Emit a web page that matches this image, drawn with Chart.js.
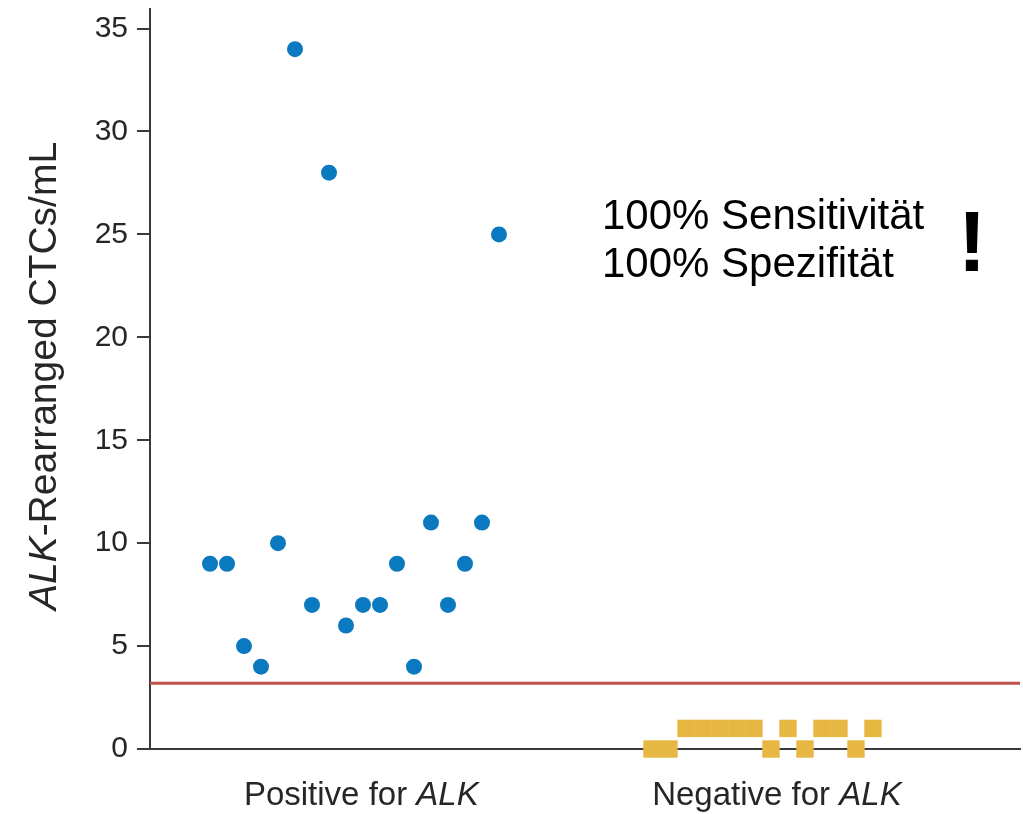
<!DOCTYPE html>
<html>
<head>
<meta charset="utf-8">
<script src="https://cdn.jsdelivr.net/npm/chart.js@4.4.0/dist/chart.umd.min.js"></script>
<style>
  html, body { margin: 0; padding: 0; background: #fff; }
</style>
</head>
<body>
<canvas id="chartCtc" width="1023" height="814"></canvas>
<script>
// valores
var positiveCtc = [9, 9, 5, 4, 10, 34, 7, 28, 6, 7, 7, 9, 4, 11, 7, 9, 11, 25];
var negativeCtc = [0, 0, 1, 1, 1, 1, 1, 0, 1, 0, 1, 1, 0, 1];
var categorias = ["Positive for ", "Negative for "];
var yTicks = [0, 5, 10, 15, 20, 25, 30, 35];
var cutoff = 3.2;
var anotacao = ["100% Sensitivität", "100% Spezifität"];

var FONT = '"Liberation Sans", Arial, sans-serif';
var negStart = 26;
var xMin = -3.53, xMax = 47.65;
var labelAt = [8.9, 33.35];

var pontosPos = positiveCtc.map(function (v, i) { return { x: i, y: v }; });
var pontosNeg = negativeCtc.map(function (v, i) { return { x: negStart + i, y: v }; });

function drawParts(c, parts, cx, y, size) {
    var total = 0;
    parts.forEach(function (p) {
        c.font = (p.italic ? 'italic ' : '') + size + 'px ' + FONT;
        p.w = c.measureText(p.t).width;
        total += p.w;
    });
    var x = cx - total / 2;
    c.textAlign = 'left';
    parts.forEach(function (p) {
        c.font = (p.italic ? 'italic ' : '') + size + 'px ' + FONT;
        c.fillText(p.t, x, y);
        x += p.w;
    });
}

var textos = {
    id: 'textos',
    afterDraw: function (chart) {
        var c = chart.ctx, xs = chart.scales.x;
        c.save();
        c.textBaseline = 'alphabetic';
        c.fillStyle = '#262626';
        categorias.forEach(function (cat, i) {
            drawParts(c, [{ t: cat }, { t: 'ALK', italic: true }], xs.getPixelForValue(labelAt[i]), 805, 33);
        });

        // titulo do eixo y
        c.save();
        c.translate(56, 376);
        c.rotate(-Math.PI / 2);
        drawParts(c, [{ t: 'ALK', italic: true }, { t: '-Rearranged CTCs/mL' }], 0, 0, 39);
        c.restore();

        c.fillStyle = '#000';
        c.textAlign = 'left';
        c.font = '42px ' + FONT;
        c.fillText(anotacao[0], 602, 229);
        c.fillText(anotacao[1], 602, 277);
        c.textAlign = 'center';
        c.font = 'bold 86px ' + FONT;
        c.fillText('!', 972, 271);
        c.restore();
    }
};

function semPadding(s) {
    s.paddingTop = 0;
    s.paddingBottom = 0;
    s.paddingLeft = 0;
    s.paddingRight = 0;
}

var ctx = document.getElementById('chartCtc').getContext('2d');
var chart = new Chart(ctx, {
    type: 'scatter',
    data: {
        datasets: [
            {
                label: 'Cutoff',
                type: 'line',
                data: [{ x: xMin, y: cutoff }, { x: xMax, y: cutoff }],
                borderColor: '#c0504d',
                borderWidth: 3,
                pointRadius: 0
            },
            {
                label: 'Positive for ALK',
                data: pontosPos,
                backgroundColor: '#0a79bf',
                borderColor: '#0a79bf',
                borderWidth: 0,
                pointRadius: 8
            },
            {
                label: 'Negative for ALK',
                data: pontosNeg,
                pointStyle: 'rect',
                backgroundColor: '#e7b744',
                borderWidth: 0,
                pointRadius: 12.3,
                clip: false
            }
        ]
    },
    options: {
        responsive: false,
        animation: false,
        layout: { autoPadding: false, padding: { top: 9, right: 3, left: 0, bottom: 0 } },
        plugins: { legend: { display: false }, tooltip: { enabled: false } },
        scales: {
            x: {
                type: 'linear',
                min: xMin,
                max: xMax,
                ticks: { display: false },
                grid: { display: false },
                border: { color: '#3a3a3a', width: 2 },
                afterFit: function (s) { s.height = 65; semPadding(s); }
            },
            y: {
                min: 0,
                max: 35.95,
                afterBuildTicks: function (s) { s.ticks = yTicks.map(function (v) { return { value: v }; }); },
                ticks: { font: { family: FONT, size: 30 }, color: '#262626', padding: 9 },
                grid: { drawOnChartArea: false, tickLength: 13, color: '#3a3a3a', lineWidth: 2 },
                border: { color: '#3a3a3a', width: 2 },
                afterFit: function (s) { s.width = 150; semPadding(s); }
            }
        }
    },
    plugins: [textos]
});
</script>
</body>
</html>
